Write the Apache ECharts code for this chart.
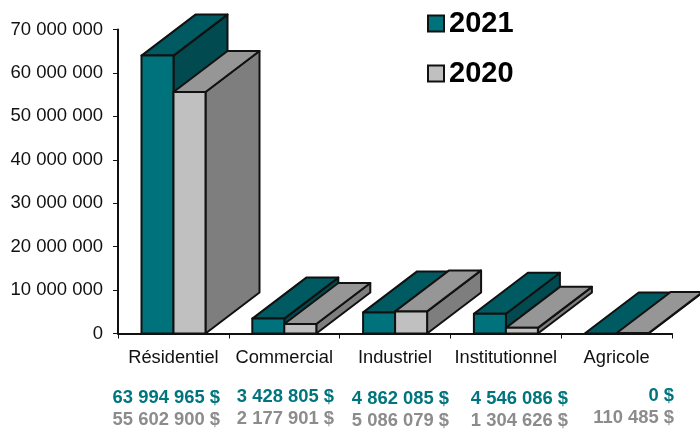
<!DOCTYPE html>
<html>
<head>
<meta charset="utf-8">
<script src="https://cdn.jsdelivr.net/npm/echarts@6/dist/echarts.min.js"></script>
<style>
  html,body{margin:0;padding:0;background:#fff;}
  #main{width:700px;height:433px;}
</style>
</head>
<body>
<div id="main"></div>
<script>
var categories = ["Résidentiel", "Commercial", "Industriel", "Institutionnel", "Agricole"];
var values2021 = [63994965, 3428805, 4862085, 4546086, 0];
var values2020 = [55602900, 2177901, 5086079, 1304626, 110485];
var yTicks = [0, 10000000, 20000000, 30000000, 40000000, 50000000, 60000000, 70000000];

// look of the bars and of the 3d depth
var FONT = '"Liberation Sans", Arial, sans-serif';
var BAR_W = 32, BAR_OFFSET = 23.5, DEPTH_X = 54, DEPTH_Y = 41;
var TEAL = {front: "#00727c", top: "#005a62", side: "#004a50", text: "#00757e"};
var GRAY = {front: "#c0c0c0", top: "#969696", side: "#7e7e7e", text: "#8c8c8c"};

// the amounts under the axis do not sit on a regular grid in the picture
var labelRight = [220, 334, 449, 568, 674];
var labelY2021 = [399, 398, 400, 400, 397];
var labelY2020 = [421, 420, 422, 422, 419];

function spaced(v){
  return String(v).replace(/\B(?=(\d{3})+(?!\d))/g, " ");
}

function poly(points, fill){
  return {
    type: "polygon",
    shape: {points: points},
    style: {fill: fill, stroke: "#111", lineWidth: 2, lineJoin: "round"}
  };
}

// slot: 0 = front bar of the pair (2021), 1 = second bar (2020)
function bar3d(slot, colors){
  return function(params, api){
    var band = api.size([1, 0])[0];
    var top = api.coord([api.value(0), api.value(1)]);
    var base = api.coord([api.value(0), 0]);
    var x0 = top[0] - band / 2 + BAR_OFFSET + slot * BAR_W;
    var x1 = x0 + BAR_W;
    var yt = top[1], yb = base[1];
    var children = [];
    // side, top, front
    children.push(poly([[x1, yb], [x1 + DEPTH_X, yb - DEPTH_Y], [x1 + DEPTH_X, yt - DEPTH_Y], [x1, yt]], colors.side));
    children.push(poly([[x0, yt], [x0 + DEPTH_X, yt - DEPTH_Y], [x1 + DEPTH_X, yt - DEPTH_Y], [x1, yt]], colors.top));
    if(yb - yt > 0.5){
      children.push(poly([[x0, yt], [x1, yt], [x1, yb], [x0, yb]], colors.front));
    }
    return {type: "group", children: children};
  };
}

function seriesData(values){
  return values.map(function(v, i){ return [i, v]; });
}

function amountLabels(values, ys, color){
  return values.map(function(v, i){
    return {
      type: "text",
      right: 700 - labelRight[i],
      top: ys[i] - 10,
      silent: true,
      style: {
        text: spaced(v) + " $",
        fill: color,
        font: "bold 18.4px " + FONT
      }
    };
  });
}

var myChart = echarts.init(document.getElementById("main"));
var option = {
  backgroundColor: "#fff",
  animation: false,
  textStyle: {fontFamily: FONT},
  grid: {left: 118, right: 28, top: 29.5, bottom: 99.5},
  legend: {
    left: 422,
    top: 4,
    orient: "vertical",
    itemWidth: 16,
    itemHeight: 16,
    itemGap: 21,
    icon: "rect",
    selectedMode: false,
    textStyle: {fontSize: 29, fontWeight: "bold", color: "#000", fontFamily: FONT, lineHeight: 28},
    data: ["2021", "2020"]
  },
  xAxis: {
    type: "category",
    data: categories,
    axisLine: {lineStyle: {color: "#111", width: 2}},
    axisTick: {show: true, alignWithLabel: false, length: 5, lineStyle: {color: "#111", width: 1}},
    axisLabel: {margin: 15, fontSize: 18.3, color: "#111", fontFamily: FONT, interval: 0}
  },
  yAxis: {
    type: "value",
    min: yTicks[0],
    max: yTicks[yTicks.length - 1],
    interval: yTicks[1] - yTicks[0],
    splitLine: {show: false},
    axisLine: {show: true, lineStyle: {color: "#111", width: 2}},
    axisTick: {show: true, length: 5, lineStyle: {color: "#111", width: 1}},
    axisLabel: {margin: 15, fontSize: 18.5, color: "#111", fontFamily: FONT, padding: [4, 0, 0, 0], formatter: function(v){ return spaced(v); }}
  },
  series: [
    {
      name: "2021",
      type: "custom",
      clip: false,
      z: 3,
      renderItem: bar3d(0, TEAL),
      encode: {x: 0, y: 1},
      itemStyle: {color: TEAL.front, borderColor: "#111", borderWidth: 2},
      data: seriesData(values2021)
    },
    {
      name: "2020",
      type: "custom",
      clip: false,
      z: 4,
      renderItem: bar3d(1, GRAY),
      encode: {x: 0, y: 1},
      itemStyle: {color: GRAY.front, borderColor: "#111", borderWidth: 2},
      data: seriesData(values2020)
    }
  ],
  graphic: amountLabels(values2021, labelY2021, TEAL.text).concat(amountLabels(values2020, labelY2020, GRAY.text))
};
myChart.setOption(option);
</script>
</body>
</html>
